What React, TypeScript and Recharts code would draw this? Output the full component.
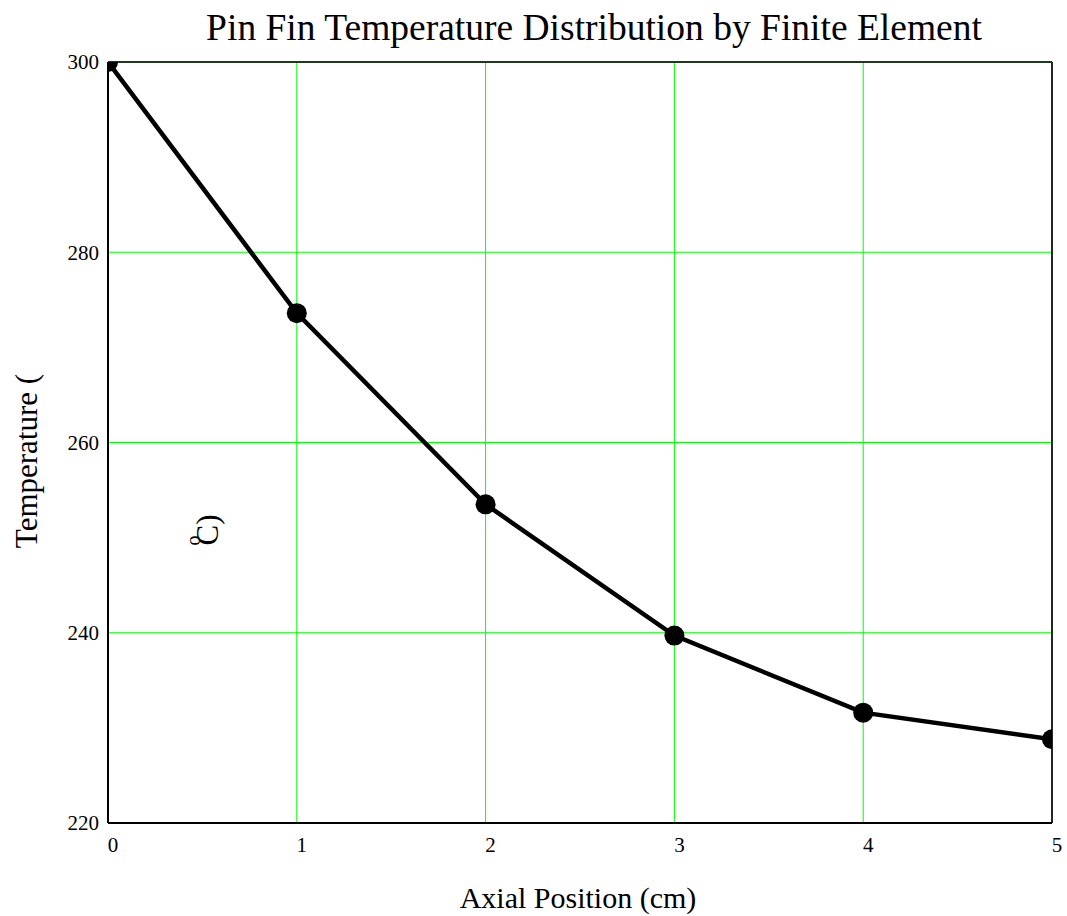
import { LineChart, Line, XAxis, YAxis, CartesianGrid, ReferenceLine } from 'recharts';

const positions = [0, 1, 2, 3, 4, 5];
const temperatures = [300, 273.6, 253.5, 239.7, 231.6, 228.8];
const xTicks = [0, 1, 2, 3, 4, 5];
const yTicks = [220, 240, 260, 280, 300];

const FONT = '"Liberation Serif", "Times New Roman", serif';

export default function App() {
  const data = positions.map((x, i) => ({ x, t: temperatures[i] }));

  return (
    <div style={{ position: 'absolute', left: 0, top: 0, background: '#fff' }}>
      <LineChart
        width={1067}
        height={916}
        data={data}
        margin={{ top: 62, right: 15, left: 0, bottom: 0 }}
        style={{ fontFamily: FONT }}
      >
        <text x={594} y={40} textAnchor="middle" fontSize={37.5} fontFamily={FONT} fill="#000">
          Pin Fin Temperature Distribution by Finite Element
        </text>
        <text x={578} y={908} textAnchor="middle" fontSize={30} fontFamily={FONT} fill="#000">
          Axial Position (cm)
        </text>
        <text
          x={37}
          y={461}
          textAnchor="middle"
          fontSize={31}
          fontFamily={FONT}
          fill="#000"
          transform="rotate(-90 37 461)"
        >
          Temperature (
        </text>
        <text
          x={218}
          y={530}
          textAnchor="middle"
          fontSize={31}
          fontFamily={FONT}
          fill="#000"
          transform="rotate(-90 218 530)"
        >
          <tspan fontSize={20} dy={-18}>o</tspan>
          <tspan dy={18} dx={-10}>C)</tspan>
        </text>
        <CartesianGrid stroke="#00ff00" strokeWidth={1} horizontalValues={yTicks} verticalValues={xTicks} />
        <XAxis
          dataKey="x"
          type="number"
          domain={[0, 5]}
          ticks={xTicks}
          allowDataOverflow
          height={93}
          tickLine={false}
          axisLine={{ stroke: '#000', strokeWidth: 2 }}
          tick={{ fontSize: 21, fill: '#000', fontFamily: FONT, dx: 5 }}
          tickMargin={8}
        />
        <YAxis
          type="number"
          domain={[220, 300]}
          ticks={yTicks}
          allowDataOverflow
          width={108}
          tickLine={false}
          axisLine={{ stroke: '#000', strokeWidth: 2 }}
          tick={{ fontSize: 21, fill: '#000', fontFamily: FONT }}
          tickMargin={3}
        />
        <ReferenceLine y={300} stroke="#1e3a1e" strokeWidth={2} />
        <ReferenceLine x={5} stroke="#1e2a1e" strokeWidth={2} />
        <Line
          dataKey="t"
          stroke="#000"
          strokeWidth={4.5}
          dot={{ r: 10, fill: '#000', stroke: '#000', strokeWidth: 0 }}
          isAnimationActive={false}
        />
      </LineChart>
    </div>
  );
}
